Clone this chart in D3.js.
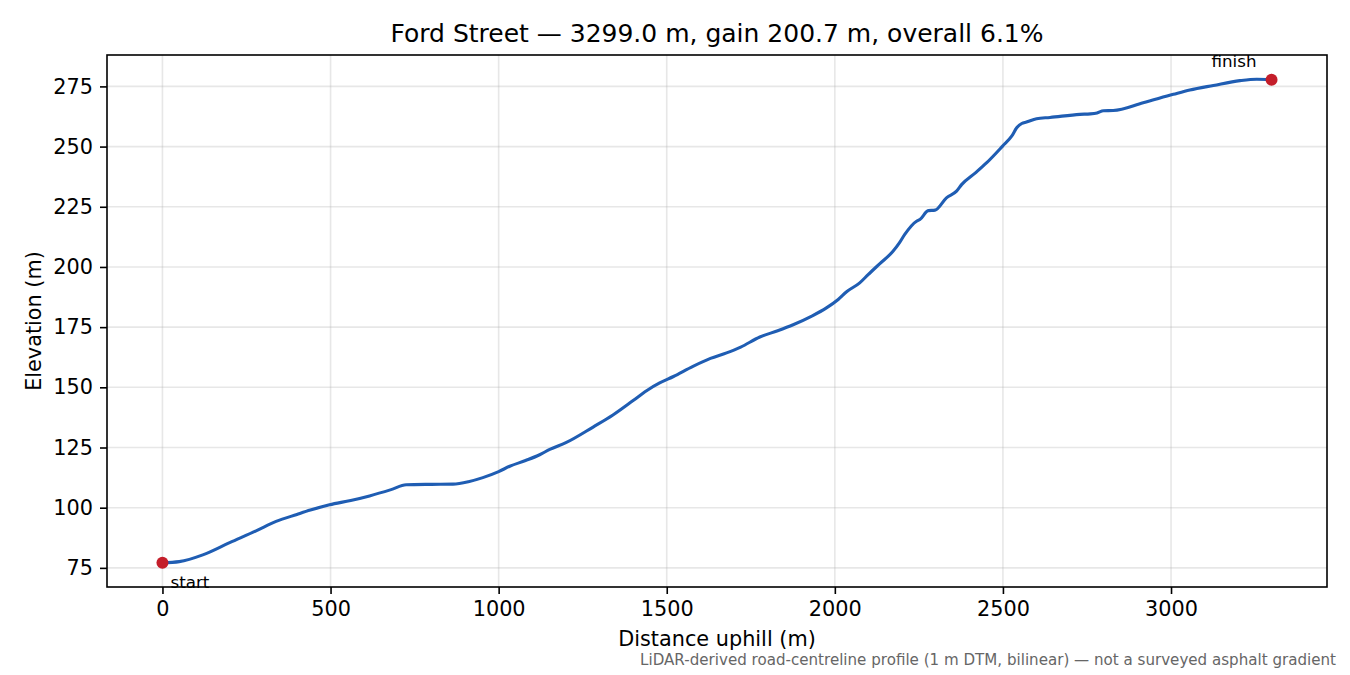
<!DOCTYPE html>
<html>
<head>
<meta charset="utf-8">
<script src="https://cdn.jsdelivr.net/npm/d3@7"></script>
<style>
  body { margin: 0; background: #fff; }
  text { font-family: "DejaVu Sans", sans-serif; }
</style>
</head>
<body>
<div id="chart"></div>
<script>
// distance along road (m) and elevation (m)
const distance = [0, 50, 120, 200, 280, 338, 400, 440, 497, 560, 616, 680, 725, 800, 864, 910, 953, 1000, 1033, 1080,
  1122, 1152, 1200, 1281, 1340, 1400, 1440, 1479, 1520, 1578, 1630, 1678, 1720, 1777, 1830, 1876, 1930, 1975, 2010, 2035,
  2074, 2099, 2134, 2173, 2193, 2208, 2243, 2253, 2278, 2298, 2332, 2362, 2377, 2420, 2451, 2499, 2526, 2541, 2556, 2570,
  2600, 2640, 2729, 2760, 2780, 2799, 2828, 2917, 3007, 3056, 3126, 3205, 3255, 3299];
const elevation = [77.1, 77.6, 80.4, 85.5, 90.5, 94.3, 97.2, 99.0, 101.2, 103.0, 104.9, 107.5, 109.5, 109.7, 109.8, 110.8, 112.5, 115.0, 117.2, 119.6,
  122.0, 124.2, 127.0, 133.5, 138.5, 144.5, 148.6, 151.8, 154.5, 158.7, 162.0, 164.3, 166.7, 170.9, 173.5, 176.0, 179.5, 183.0, 186.5, 189.7,
  193.4, 196.8, 201.4, 206.5, 210.2, 213.5, 219.0, 219.7, 223.4, 223.6, 228.7, 231.5, 234.2, 239.3, 243.2, 250.2, 254.3, 257.8, 259.6, 260.2,
  261.6, 262.1, 263.4, 263.6, 264.0, 264.9, 265.0, 268.2, 271.7, 273.5, 275.4, 277.4, 278.0, 277.8];

const xTicks = [0, 500, 1000, 1500, 2000, 2500, 3000];
const yTicks = [75, 100, 125, 150, 175, 200, 225, 250, 275];

const title = "Ford Street \u2014 3299.0 m, gain 200.7 m, overall 6.1%";
const note = "LiDAR-derived road-centreline profile (1 m DTM, bilinear) \u2014 not a surveyed asphalt gradient";

const width = 1350;
const height = 675;
const margin = { top: 55, left: 107, bottom: 88, right: 23 };
const iwidth = width - margin.left - margin.right;
const iheight = height - margin.top - margin.bottom;

const svg = d3.select("#chart").append("svg")
  .attr("width", width)
  .attr("height", height);

const g = svg.append("g").attr("transform", `translate(${margin.left},${margin.top})`);

// matplotlib-like 5% padding
const xMin = d3.min(distance), xMax = d3.max(distance);
const yMin = d3.min(elevation), yMax = d3.max(elevation);
const xPad = (xMax - xMin) * 0.05, yPad = (yMax - yMin) * 0.05;

const x = d3.scaleLinear().domain([xMin - xPad, xMax + xPad]).range([0, iwidth]);
const y = d3.scaleLinear().domain([yMin - yPad, yMax + yPad]).range([iheight, 0]);

// grid
g.append("g").selectAll("line").data(xTicks).enter().append("line")
  .attr("x1", d => x(d)).attr("x2", d => x(d))
  .attr("y1", 0).attr("y2", iheight)
  .attr("stroke", "#b0b0b0").attr("stroke-opacity", 0.3).attr("stroke-width", 1.6);
g.append("g").selectAll("line").data(yTicks).enter().append("line")
  .attr("y1", d => y(d)).attr("y2", d => y(d))
  .attr("x1", 0).attr("x2", iwidth)
  .attr("stroke", "#b0b0b0").attr("stroke-opacity", 0.3).attr("stroke-width", 1.6);

// profile line
const line = d3.line()
  .x((d, i) => x(distance[i]))
  .y(d => y(d))
  .curve(d3.curveMonotoneX);

g.append("path")
  .datum(elevation)
  .attr("fill", "none")
  .attr("stroke", "#1f5db3")
  .attr("stroke-width", 3.1)
  .attr("stroke-linejoin", "round")
  .attr("d", line);

// axes
const xAxis = g.append("g")
  .attr("transform", `translate(0, ${iheight})`)
  .call(d3.axisBottom(x).tickValues(xTicks).tickFormat(d3.format("d")).tickSize(7).tickPadding(7).tickSizeOuter(0));
const yAxis = g.append("g")
  .call(d3.axisLeft(y).tickValues(yTicks).tickFormat(d3.format("d")).tickSize(7).tickPadding(7).tickSizeOuter(0));

[xAxis, yAxis].forEach(a => {
  a.select(".domain").remove();
  a.selectAll("line").attr("stroke", "#000").attr("stroke-width", 1.6);
  a.selectAll("text").attr("font-size", 20.8).attr("fill", "#000")
    .style("font-family", "'DejaVu Sans', sans-serif");
});

// frame
g.append("rect")
  .attr("width", iwidth).attr("height", iheight)
  .attr("fill", "none").attr("stroke", "#000").attr("stroke-width", 1.6);

// start / finish markers
const ends = [0, elevation.length - 1];
g.selectAll("circle").data(ends).enter().append("circle")
  .attr("cx", i => x(distance[i]))
  .attr("cy", i => y(elevation[i]))
  .attr("r", 6)
  .attr("fill", "#c41e2a");

g.append("text")
  .attr("x", x(distance[0]) + 8)
  .attr("y", y(elevation[0]) + 25)
  .attr("font-size", 16.7)
  .text("start");

g.append("text")
  .attr("x", x(distance[distance.length - 1]) - 15)
  .attr("y", y(elevation[elevation.length - 1]) - 13)
  .attr("text-anchor", "end")
  .attr("font-size", 16.7)
  .text("finish");

// labels
svg.append("text")
  .attr("x", margin.left + iwidth / 2)
  .attr("y", 42)
  .attr("text-anchor", "middle")
  .attr("font-size", 25)
  .text(title);

svg.append("text")
  .attr("x", margin.left + iwidth / 2)
  .attr("y", 646)
  .attr("text-anchor", "middle")
  .attr("font-size", 20.8)
  .text("Distance uphill (m)");

svg.append("text")
  .attr("transform", `translate(41, ${margin.top + iheight / 2}) rotate(-90)`)
  .attr("text-anchor", "middle")
  .attr("font-size", 20.8)
  .text("Elevation (m)");

svg.append("text")
  .attr("x", 1336)
  .attr("y", 665)
  .attr("text-anchor", "end")
  .attr("font-size", 15.1)
  .attr("fill", "#666")
  .text(note);
</script>
</body>
</html>
